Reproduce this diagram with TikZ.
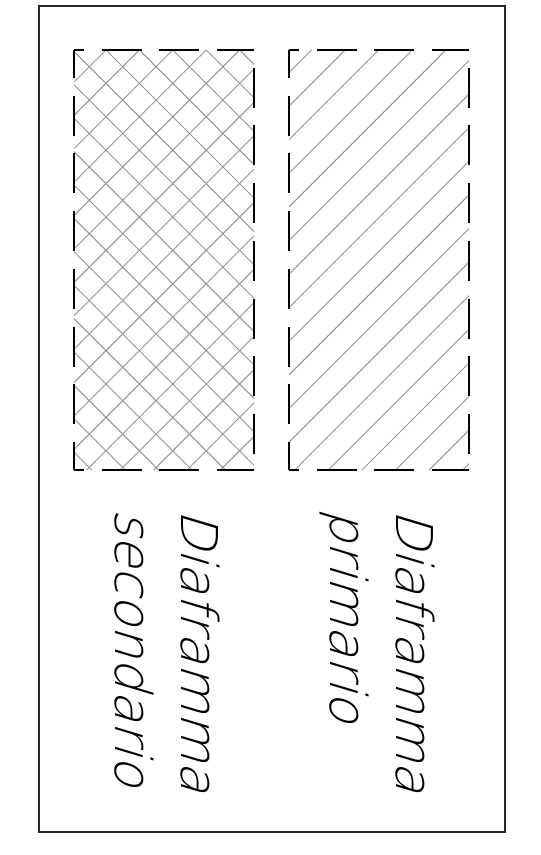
\documentclass[tikz,border=0pt]{standalone}
\usepackage{fontspec}
\newfontfamily\labfont[FakeSlant=0.3]{DejaVuSans-ExtraLight.ttf}
\begin{document}
\begin{tikzpicture}[x=0.75pt,y=-0.75pt,
  frame/.style={draw=black!85, line width=1.4pt},
  edgeline/.style={line width=1.4pt, dash pattern=on 30pt off 13.3pt},
  hatchline/.style={draw=black!42, line width=0.7pt},
  lab/.style={rotate=-90, anchor=base west, inner sep=0pt, font=\labfont\fontsize{38}{40}\selectfont}]
\useasboundingbox (0,0) rectangle (540,855);
\draw[frame] (39,6) rectangle (505,832);

% hatching of the primary diaphragm
\begin{scope}
  \clip (289,50) rectangle (469,470);
  \foreach \k in {-1,...,19}
    \draw[hatchline] ({361.5+33.6*\k-50},50) -- ({361.5+33.6*\k-470},470);
\end{scope}
% cross-hatching of the secondary diaphragm
\begin{scope}
  \clip (74,50) rectangle (254,470);
  \foreach \k in {-3,...,18}
    \draw[hatchline] ({156+33.4*\k-50},50) -- ({156+33.4*\k-470},470);
  \foreach \k in {-14,...,6}
    \draw[hatchline] ({56+33.4*\k+50},50) -- ({56+33.4*\k+470},470);
\end{scope}

% dashed outlines
\foreach \xl/\xr/\n in {74/254/s, 289/469/p}{
  \coordinate (\n tl) at (\xl,50);
  \coordinate (\n tr) at (\xr,50);
  \coordinate (\n bl) at (\xl,470);
  \coordinate (\n br) at (\xr,470);
  \draw[edgeline, dash phase=22.5pt] (\n tl) -- (\n tr);
  \draw[edgeline, dash phase=22.5pt] (\n bl) -- (\n br);
  \draw[edgeline, dash phase=9pt] (\n tl) -- (\n bl);
  \draw[edgeline, dash phase=30pt] (\n tr) -- (\n br);
}

% labels
\node[lab] (p1) at (396,509) {Diaframma};
\node[lab] (p2) at (330,509) {primario};
\node[lab] (s1) at (181,509) {Diaframma};
\node[lab] (s2) at (115,509) {secondario};
\end{tikzpicture}
\end{document}
